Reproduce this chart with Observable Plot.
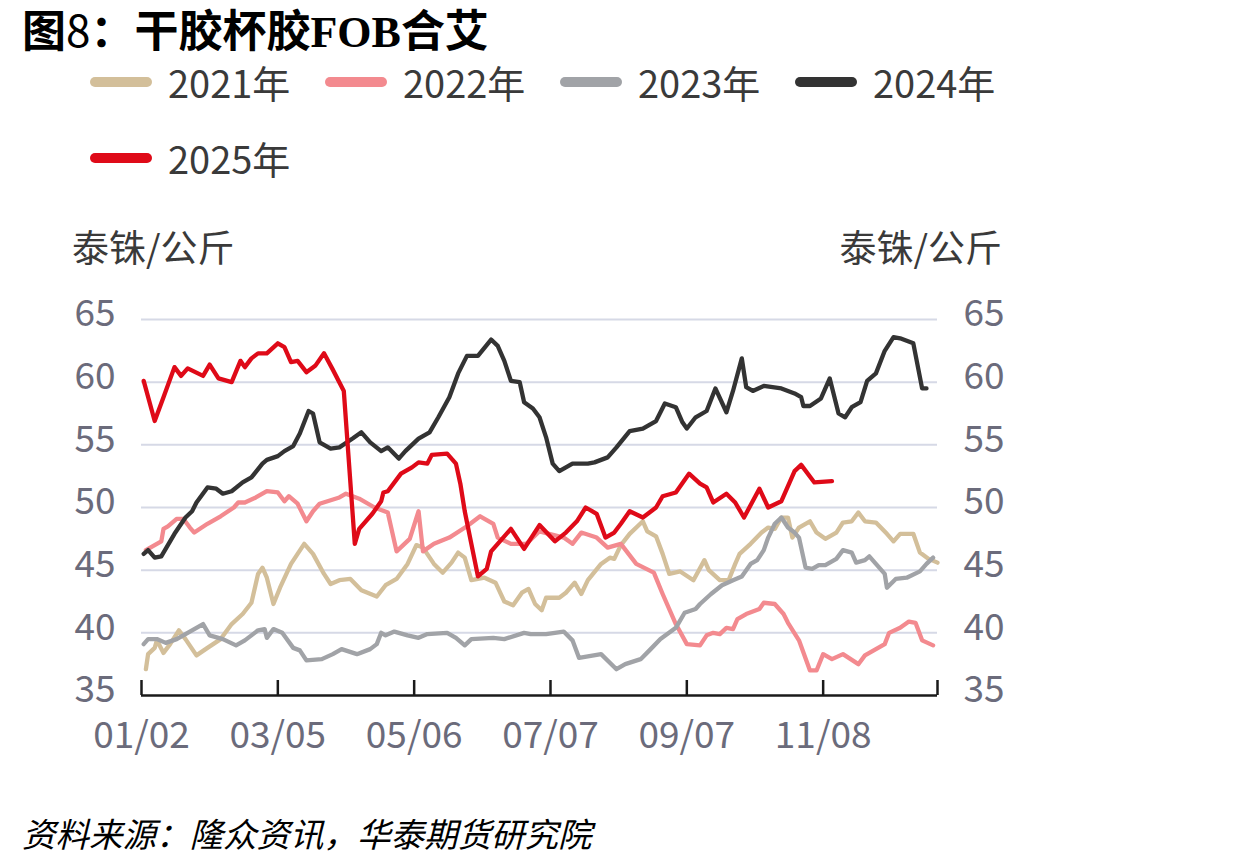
<!DOCTYPE html>
<html><head><meta charset="utf-8">
<script src="https://cdn.jsdelivr.net/npm/d3@7"></script>
<script src="https://cdn.jsdelivr.net/npm/@observablehq/plot@0.6"></script>
<style>
body{margin:0;background:#fff;width:1240px;height:866px;position:relative;overflow:hidden;font-family:"Noto Sans CJK SC","Noto Sans",sans-serif;}
.abs{position:absolute;white-space:nowrap;}
#title{left:22px;top:5px;font-size:44px;line-height:46px;font-weight:700;color:#000;}
#title .n{font-weight:400;}
#title .s{font-family:"Liberation Serif",serif;font-weight:700;}
.leg{display:flex;align-items:center;height:42px;}
.sw{width:62px;height:10px;border-radius:5px;margin-right:16px;}
.lt{font-size:38px;color:#3a3a3a;line-height:42px;}
.unit{font-size:37px;color:#3a3a3a;line-height:44px;}
#caption{left:22px;top:811px;font-size:33.5px;line-height:44px;font-style:italic;color:#000;}
#chart{position:absolute;left:0;top:200px;}
</style></head><body>
<div id="title" class="abs">图<span class="n">8</span>：干胶杯胶<span class="s">FOB</span>合艾</div>
<div id="legend"></div>
<div class="abs unit" style="left:72px;top:224px;">泰铢/公斤</div>
<div class="abs unit" style="right:238px;top:224px;">泰铢/公斤</div>
<div id="chart"></div>
<div id="caption" class="abs">资料来源：隆众资讯，华泰期货研究院</div>
<script>
const s2021 = [["01-04",37.1],["01-05",38.3],["01-08",38.8],["01-09",39.4],["01-12",38.4],["01-15",39.1],["01-19",40.2],["01-22",39.5],["01-27",38.2],["02-01",38.8],["02-07",39.5],["02-12",40.7],["02-17",41.5],["02-21",42.4],["02-24",44.7],["02-26",45.2],["02-28",44.4],["03-03",42.3],["03-06",43.6],["03-11",45.5],["03-17",47.1],["03-21",46.3],["03-26",44.7],["03-29",43.9],["04-02",44.2],["04-07",44.3],["04-12",43.4],["04-19",42.9],["04-23",43.8],["04-28",44.3],["05-03",45.5],["05-07",47.0],["05-10",46.8],["05-15",45.5],["05-19",44.8],["05-23",45.6],["05-26",46.4],["05-29",46.0],["06-01",44.2],["06-07",44.4],["06-12",44.0],["06-16",42.5],["06-20",42.2],["06-24",43.2],["06-27",43.5],["06-30",42.3],["07-03",41.8],["07-05",42.8],["07-11",42.8],["07-14",43.2],["07-18",44.0],["07-21",43.1],["07-24",44.2],["07-30",45.5],["08-03",46.0],["08-05",45.9],["08-08",47.0],["08-12",47.9],["08-18",48.9],["08-20",48.1],["08-24",47.7],["08-27",46.3],["08-30",44.7],["09-04",44.9],["09-10",44.2],["09-15",45.8],["09-17",45.0],["09-22",44.2],["09-26",44.2],["09-29",45.5],["10-01",46.3],["10-06",47.1],["10-11",48.0],["10-14",48.4],["10-17",48.3],["10-20",49.2],["10-23",49.2],["10-25",47.6],["10-28",48.4],["11-02",48.9],["11-05",48.0],["11-09",47.5],["11-14",48.0],["11-17",48.8],["11-21",48.9],["11-24",49.6],["11-27",48.9],["12-02",48.8],["12-07",47.9],["12-10",47.3],["12-13",47.9],["12-19",47.9],["12-22",46.4],["12-26",45.9],["12-30",45.6]];
const s2022 = [["01-04",46.6],["01-08",47.0],["01-11",47.3],["01-12",48.3],["01-14",48.5],["01-18",49.1],["01-21",49.1],["01-24",48.4],["01-26",48.0],["02-01",48.7],["02-07",49.3],["02-13",50.0],["02-15",50.4],["02-18",50.4],["02-23",50.8],["02-28",51.3],["03-05",51.2],["03-08",50.5],["03-10",50.9],["03-14",50.3],["03-18",48.9],["03-21",49.7],["03-24",50.3],["04-02",50.8],["04-05",51.1],["04-11",50.7],["04-18",50.0],["04-24",49.6],["04-28",46.5],["05-04",47.5],["05-08",49.7],["05-10",46.5],["05-15",47.1],["05-22",47.6],["05-30",48.5],["06-05",49.3],["06-11",48.7],["06-13",47.6],["06-19",47.1],["06-26",47.1],["07-02",48.1],["07-13",47.6],["07-17",47.1],["07-21",48.0],["07-28",47.6],["08-02",46.8],["08-08",47.1],["08-15",45.5],["08-23",44.8],["08-27",43.1],["09-02",40.7],["09-07",39.1],["09-13",39.0],["09-16",39.8],["09-19",40.0],["09-22",39.9],["09-25",40.4],["09-28",40.3],["09-30",41.1],["10-04",41.5],["10-10",41.9],["10-12",42.4],["10-17",42.3],["10-21",41.5],["10-23",40.8],["10-28",39.4],["11-02",37.0],["11-05",37.0],["11-08",38.3],["11-12",37.9],["11-17",38.3],["11-24",37.5],["11-27",38.2],["12-02",38.7],["12-06",39.1],["12-08",40.0],["12-13",40.4],["12-17",40.9],["12-20",40.8],["12-23",39.4],["12-28",39.0]];
const s2023 = [["01-03",39.1],["01-05",39.5],["01-09",39.5],["01-13",39.2],["01-18",39.5],["01-23",40.0],["01-30",40.7],["02-02",39.8],["02-08",39.5],["02-14",39.0],["02-18",39.4],["02-24",40.2],["02-27",40.3],["02-28",39.6],["03-03",40.3],["03-07",40.0],["03-12",38.8],["03-15",38.6],["03-18",37.8],["03-25",37.9],["03-30",38.3],["04-03",38.7],["04-10",38.3],["04-16",38.7],["04-19",39.1],["04-21",40.0],["04-23",39.8],["04-27",40.1],["05-03",39.8],["05-08",39.6],["05-12",39.9],["05-21",40.0],["05-25",39.6],["05-29",39.0],["06-01",39.5],["06-11",39.6],["06-16",39.5],["06-25",40.0],["06-28",39.9],["07-05",39.9],["07-13",40.1],["07-17",39.4],["07-20",38.0],["07-30",38.3],["08-06",37.1],["08-10",37.5],["08-17",37.9],["08-21",38.6],["08-26",39.5],["09-02",40.4],["09-06",41.6],["09-11",41.9],["09-13",42.3],["09-18",43.1],["09-23",43.8],["09-28",44.2],["10-02",44.5],["10-06",45.5],["10-09",45.8],["10-12",46.6],["10-14",47.6],["10-17",48.7],["10-20",49.2],["10-23",48.4],["10-26",48.0],["10-28",47.6],["10-31",45.2],["11-03",45.1],["11-06",45.4],["11-09",45.4],["11-14",45.9],["11-17",46.6],["11-21",46.4],["11-23",45.6],["11-27",45.8],["11-29",46.1],["12-02",45.5],["12-06",44.7],["12-07",43.6],["12-11",44.3],["12-16",44.4],["12-22",44.9],["12-25",45.5],["12-28",46.0]];
const s2024 = [["01-03",46.3],["01-05",46.6],["01-08",46.0],["01-11",46.1],["01-17",47.9],["01-22",49.2],["01-25",49.7],["01-27",50.4],["02-01",51.6],["02-05",51.5],["02-08",51.1],["02-12",51.3],["02-17",52.0],["02-21",52.4],["02-26",53.5],["02-28",53.8],["03-05",54.1],["03-08",54.5],["03-12",54.9],["03-15",55.9],["03-19",57.7],["03-21",57.5],["03-24",55.2],["03-29",54.7],["04-02",54.8],["04-08",55.5],["04-12",56.0],["04-16",55.2],["04-21",54.5],["04-24",54.8],["04-29",53.9],["05-02",54.5],["05-08",55.5],["05-13",56.0],["05-17",57.2],["05-22",58.8],["05-26",60.7],["05-30",62.1],["06-04",62.1],["06-10",63.4],["06-13",62.9],["06-16",61.7],["06-19",60.1],["06-23",60.0],["06-25",58.4],["06-29",57.9],["07-02",57.2],["07-05",55.6],["07-08",53.5],["07-11",52.9],["07-17",53.5],["07-24",53.5],["07-27",53.6],["08-02",54.0],["08-06",54.8],["08-12",56.1],["08-18",56.3],["08-24",56.9],["08-28",58.3],["09-02",58.0],["09-05",56.8],["09-07",56.3],["09-11",57.2],["09-16",57.7],["09-20",59.5],["09-25",57.6],["09-28",59.3],["10-02",61.9],["10-04",59.6],["10-07",59.3],["10-12",59.7],["10-20",59.5],["10-26",59.1],["10-29",58.8],["10-30",58.1],["11-02",58.1],["11-07",58.7],["11-11",60.3],["11-15",57.5],["11-18",57.2],["11-21",58.0],["11-25",58.4],["11-28",60.1],["12-02",60.7],["12-06",62.5],["12-10",63.6],["12-13",63.5],["12-19",63.1],["12-22",60.4],["12-23",59.5],["12-25",59.5]];
const s2025 = [["01-03",60.1],["01-08",56.9],["01-12",58.8],["01-17",61.2],["01-20",60.5],["01-23",61.1],["01-30",60.5],["02-02",61.4],["02-06",60.3],["02-12",60.0],["02-16",61.7],["02-18",61.2],["02-21",61.9],["02-24",62.3],["02-28",62.3],["03-05",63.1],["03-08",62.8],["03-11",61.6],["03-14",61.7],["03-18",60.8],["03-22",61.3],["03-26",62.3],["03-30",61.0],["04-04",59.3],["04-09",47.1],["04-11",48.3],["04-17",49.5],["04-21",50.5],["04-22",51.2],["04-24",51.3],["04-30",52.7],["05-05",53.2],["05-08",53.6],["05-12",53.5],["05-14",54.2],["05-21",54.3],["05-25",53.5],["05-27",51.9],["05-29",49.7],["06-04",44.5],["06-08",45.1],["06-10",46.5],["06-14",47.3],["06-19",48.3],["06-25",46.7],["07-02",48.6],["07-09",47.3],["07-14",48.0],["07-19",48.9],["07-23",50.0],["07-28",49.5],["08-01",47.6],["08-05",48.0],["08-08",48.7],["08-12",49.7],["08-18",49.2],["08-24",50.0],["08-27",50.9],["09-02",51.2],["09-08",52.7],["09-13",51.9],["09-16",51.6],["09-19",50.4],["09-25",51.1],["09-29",50.4],["10-03",49.2],["10-10",51.5],["10-14",50.0],["10-20",50.5],["10-26",52.9],["10-29",53.4],["11-04",52.0],["11-12",52.1]];

const years = ["2021年","2022年","2023年","2024年","2025年"];
const colors = ["#d3bf9a","#f38a8f","#a1a3a7","#333333","#df0a18"];
const xTickLabels = ["01-02","03-05","05-06","07-07","09-07","11-08"];
const xEndLabel = "12-30";
const yTicks = [35,40,45,50,55,60,65];

const parse = s => d3.utcParse("%Y-%m-%d")("2023-" + s);
const all = [s2021, s2022, s2023, s2024, s2025];
const rows = all.flatMap((s, i) => s.map(([d, v]) => ({year: years[i], date: parse(d), value: v})));
const xTicks = xTickLabels.map(parse);
const xEnd = parse(xEndLabel);

// legend
const legend = document.getElementById("legend");
const legPos = [[90,61],[325,61],[560,61],[795,61],[90,137]];
years.forEach((y, i) => {
  const el = document.createElement("div");
  el.className = "abs leg";
  el.style.left = legPos[i][0] + "px";
  el.style.top = legPos[i][1] + "px";
  el.innerHTML = `<div class="sw" style="background:${colors[i]}"></div><div class="lt">${y}</div>`;
  legend.appendChild(el);
});

const fmt = d3.utcFormat("%m/%d");
const plot = Plot.plot({
  width: 1240,
  height: 560,
  marginLeft: 141,
  marginRight: 303,
  marginTop: 119,
  marginBottom: 65,
  style: {fontFamily: '"Noto Sans CJK SC","Noto Sans",sans-serif', background: "transparent", overflow: "visible"},
  x: {type: "utc", domain: [parse("01-02"), xEnd]},
  y: {domain: [35, 65]},
  color: {domain: years, range: colors},
  marks: [
    Plot.gridY(yTicks.filter(d => d > 35), {stroke: "#d6d9e6", strokeOpacity: 1, strokeWidth: 2}),
    Plot.axisY(yTicks, {anchor: "left", tickSize: 0, tickPadding: 26, fontSize: 37, fill: "#6b6b7b", label: null, dy: -5}),
    Plot.axisY(yTicks, {anchor: "right", tickSize: 0, tickPadding: 26, fontSize: 37, fill: "#6b6b7b", label: null, dy: -5}),
    Plot.axisX(xTicks, {anchor: "bottom", tickSize: 0, tickPadding: 26, fontSize: 37, fill: "#6b6b7b", label: null, tickFormat: fmt}),
    Plot.line(rows, {x: "date", y: "value", z: "year", stroke: "year", strokeWidth: 4.3, strokeLinejoin: "round", strokeLinecap: "round"}),
    Plot.ruleY([35], {stroke: "#1a1a1a", strokeWidth: 2.5}),
    Plot.ruleX([...xTicks, xEnd], {y1: 35, y2: 35, insetTop: -15, stroke: "#1a1a1a", strokeWidth: 2.5})
  ]
});
document.getElementById("chart").appendChild(plot);
</script>
</body></html>
